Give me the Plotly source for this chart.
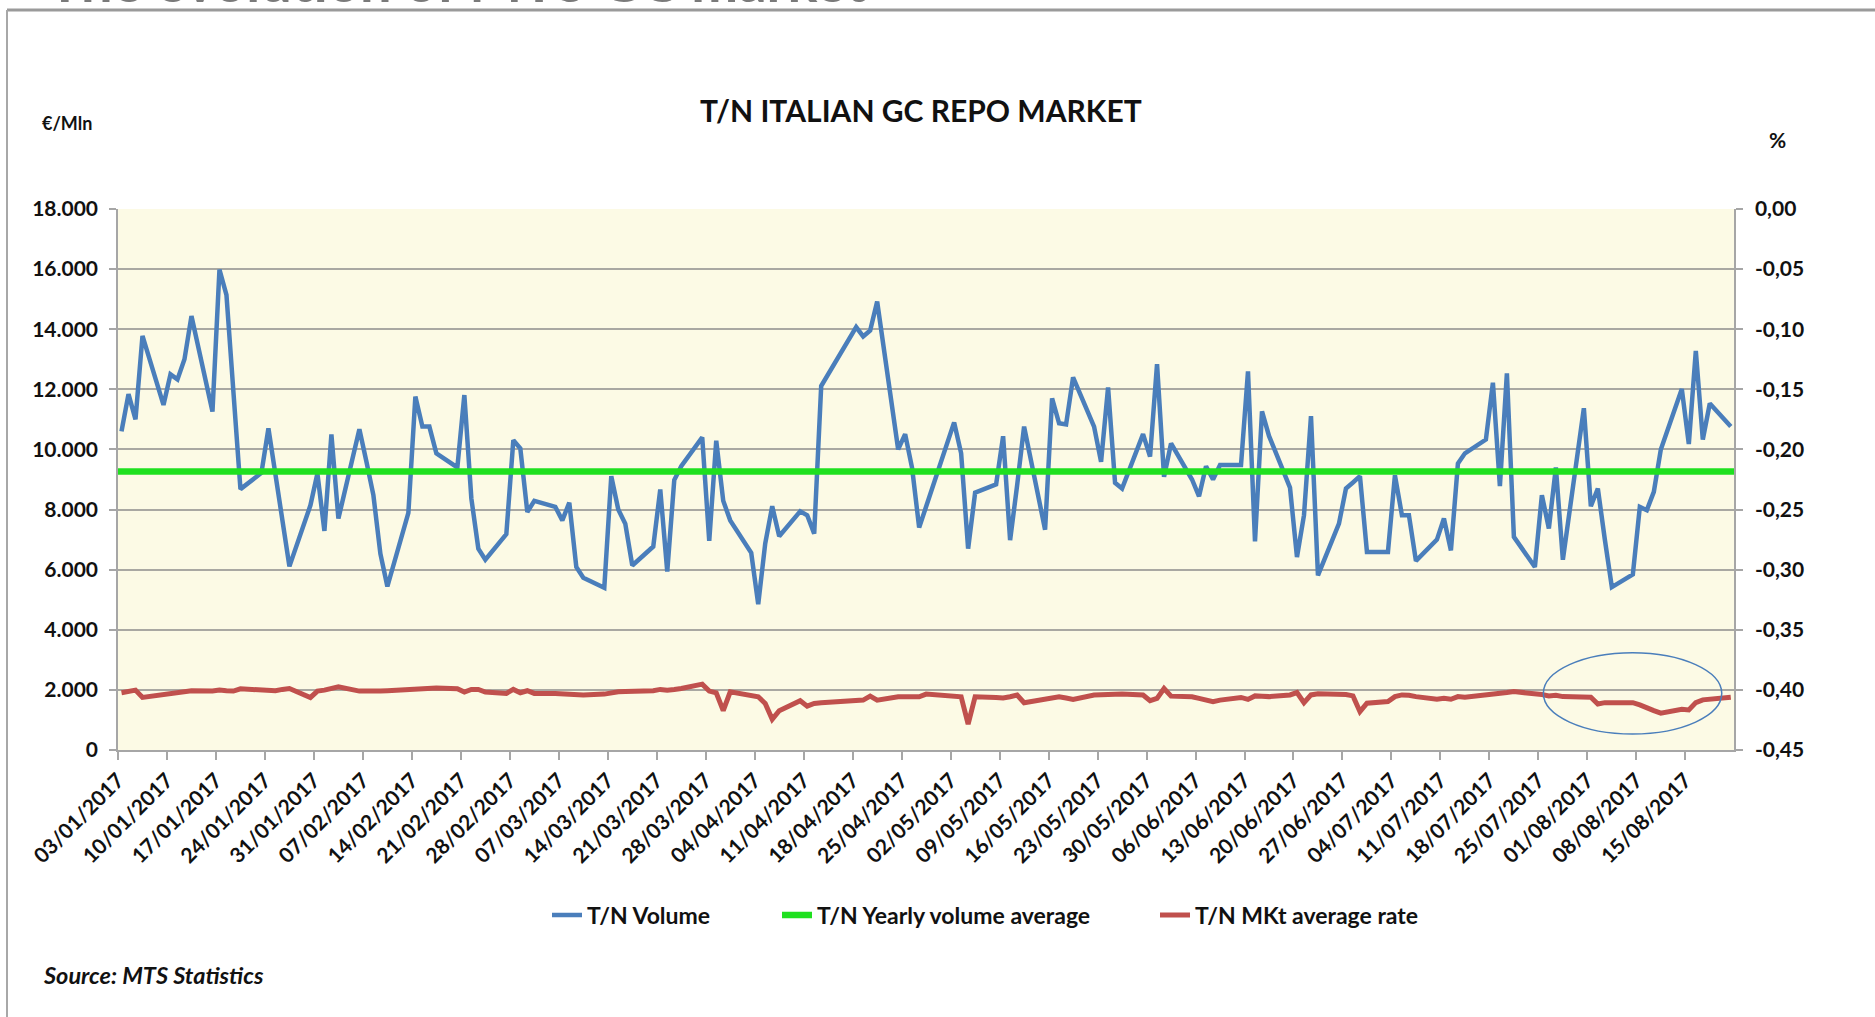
import pandas as pd
import plotly.graph_objects as go

# Trading days on the chart (TARGET holidays have no MTS data)
HOLIDAYS = ["2017-04-14", "2017-04-17", "2017-05-01"]
DATES = pd.bdate_range("2017-01-03", "2017-08-21")
DATES = DATES[~DATES.isin(pd.to_datetime(HOLIDAYS))]

# T/N volume, EUR mln (one row per week)
VOLUME = [
    10600, 11840, 11000, 13780,
    11480, 12500, 12330, 13000, 14440,
    11260, 15980, 15140, 11900, 8680,
    9220, 10700, 9170, 7640, 6110,
    8140, 9200, 7290, 10500, 7700,
    10670, 9600, 8480, 6530, 5440,
    7890, 11760, 10760, 10760, 9870,
    9400, 11810, 8370, 6700, 6330,
    7180, 10310, 10030, 7920, 8290,
    8090, 7640, 8230, 6090, 5730,
    5400, 9110, 8000, 7530, 6140,
    6770, 8670, 5940, 8980, 9440,
    10400, 6960, 10290, 8290, 7640,
    6560, 4850, 6870, 8110, 7110,
    7940, 7810, 7200, 12110,
    14070, 13760, 13960, 14920,
    10000, 10510, 9370, 7400, 8100,
    10900, 9870, 6700, 8560,
    8840, 10440, 6980, 8800, 10760,
    7330, 11700, 10870, 10830, 12400,
    10760, 9590, 12060, 8890, 8700,
    10510, 9760, 12840, 9090, 10200,
    9000, 8440, 9440, 9000, 9480,
    9480, 12600, 6940, 11270, 10450,
    8730, 6420, 7810, 11110, 5810,
    7530, 8700, 8900, 9110, 6590,
    6590, 9140, 7810, 7810, 6290,
    7000, 7700, 6640, 9530, 9870,
    10330, 12220, 8780, 12530, 7090,
    6090, 8480, 7370, 9400, 6330,
    11370, 8110, 8700, 7000, 5420,
    5840, 8090, 7980, 8590, 10000,
    12010, 10180, 13280, 10330, 11530,
    10760,
]

# T/N market average rate, %
RATE = [
    -0.4024, -0.4018, -0.4002, -0.4063,
    -0.4035, -0.4029, -0.4021, -0.4016, -0.4007,
    -0.4010, -0.4002, -0.4007, -0.4010, -0.3991,
    -0.4002, -0.4005, -0.4007, -0.3996, -0.3988,
    -0.4063, -0.4010, -0.4002, -0.3991, -0.3974,
    -0.4010, -0.4013, -0.4007, -0.4010, -0.4007,
    -0.3996, -0.3994, -0.3991, -0.3988, -0.3985,
    -0.3991, -0.4018, -0.3996, -0.3996, -0.4018,
    -0.4029, -0.3996, -0.4024, -0.4007, -0.4029,
    -0.4029, -0.4032, -0.4032, -0.4040, -0.4043,
    -0.4035, -0.4024, -0.4016, -0.4013, -0.4013,
    -0.4007, -0.3996, -0.4002, -0.3996, -0.3988,
    -0.3952, -0.4010, -0.4024, -0.4173, -0.4016,
    -0.4052, -0.4057, -0.4113, -0.4245, -0.4173,
    -0.4090, -0.4135, -0.4113, -0.4107,
    -0.4093, -0.4085, -0.4052, -0.4085,
    -0.4057, -0.4057, -0.4057, -0.4057, -0.4035,
    -0.4052, -0.4057, -0.4284, -0.4057,
    -0.4063, -0.4068, -0.4057, -0.4043, -0.4107,
    -0.4071, -0.4063, -0.4057, -0.4068, -0.4079,
    -0.4043, -0.4040, -0.4040, -0.4038, -0.4035,
    -0.4043, -0.4090, -0.4071, -0.3988, -0.4052,
    -0.4057, -0.4071, -0.4085, -0.4099, -0.4085,
    -0.4063, -0.4079, -0.4050, -0.4053, -0.4056,
    -0.4042, -0.4022, -0.4106, -0.4042, -0.4033,
    -0.4031, -0.4039, -0.4050, -0.4181, -0.4111,
    -0.4097, -0.4056, -0.4042, -0.4044, -0.4056,
    -0.4078, -0.4069, -0.4078, -0.4056, -0.4061,
    -0.4044, -0.4042, -0.4033, -0.4022, -0.4014,
    -0.4028, -0.4039, -0.4050, -0.4044, -0.4056,
    -0.4056, -0.4061, -0.4117, -0.4106, -0.4106,
    -0.4106, -0.4125, -0.4144, -0.4172, -0.4194,
    -0.4161, -0.4167, -0.4106, -0.4083, -0.4078,
    -0.4061,
]

YEARLY_AVG = 9270

VOL_TICKS = [0, 2000, 4000, 6000, 8000, 10000, 12000, 14000, 16000, 18000]
VOL_LABELS = ["0", "2.000", "4.000", "6.000", "8.000", "10.000", "12.000", "14.000", "16.000", "18.000"]
RATE_TICKS = [-0.45, -0.40, -0.35, -0.30, -0.25, -0.20, -0.15, -0.10, -0.05, 0.0]
RATE_LABELS = ["-0,45", "-0,40", "-0,35", "-0,30", "-0,25", "-0,20", "-0,15", "-0,10", "-0,05", "0,00"]

X_START, X_END = "2017-01-03", "2017-08-21 23:00"

assert len(DATES) == len(VOLUME) == len(RATE)

# points sit in the middle of each day slot
x = DATES + pd.Timedelta(hours=12)

# plot area in pixels
W, H = 1875, 1017
L, R, T, B = 118, 1734, 209, 750


def px(v):
    return (v - L) / (R - L)


def py(v):
    return (B - v) / (B - T)


FONT = "Lato, 'Open Sans', sans-serif"
AXIS_GRAY = "#a6a6a6"
TEXT = "#111111"

fig = go.Figure()

fig.add_trace(go.Scatter(
    x=x, y=VOLUME, name="T/N Volume", mode="lines",
    line=dict(color="#4a7ebb", width=4.5), legend="legend",
))
fig.add_trace(go.Scatter(
    x=[X_START, X_END], y=[YEARLY_AVG, YEARLY_AVG],
    name="T/N Yearly volume average", mode="lines",
    line=dict(color="#1fe01f", width=6.5), legend="legend2",
))
fig.add_trace(go.Scatter(
    x=x, y=RATE, name="T/N MKt average rate", mode="lines",
    line=dict(color="#c0504d", width=5), yaxis="y2", legend="legend3",
))

# one legend box per entry so the spacing can follow the original
legend_style = dict(orientation="h", xanchor="left", y=py(915), yanchor="middle",
                    font=dict(size=23, weight="bold", color=TEXT),
                    bgcolor="rgba(0,0,0,0)")

axis_style = dict(ticks="outside", tickcolor=AXIS_GRAY, tickwidth=1.5,
                  showline=True, linecolor=AXIS_GRAY, linewidth=1.5,
                  zeroline=False, tickfont=dict(size=21, weight="bold", color=TEXT))

fig.update_layout(
    width=W, height=H, autosize=False,
    margin=dict(l=L, r=W - R, t=T, b=H - B),
    paper_bgcolor="white",
    plot_bgcolor="#fcfae5",
    font=dict(family=FONT, color=TEXT, size=21, weight="bold"),
    showlegend=True,
    legend=dict(x=px(547), **legend_style),
    legend2=dict(x=px(777), **legend_style),
    legend3=dict(x=px(1155), **legend_style),
    xaxis=dict(
        type="date", range=[X_START, X_END],
        tick0=X_START, dtick=7 * 86400000, tickformat="%d/%m/%Y",
        tickangle=-45, ticklen=8, showgrid=False, **axis_style,
    ),
    yaxis=dict(
        range=[0, 18000], tickvals=VOL_TICKS, ticktext=VOL_LABELS,
        ticklen=7, ticklabelstandoff=7,
        showgrid=True, gridcolor="#a9a8a2", gridwidth=1.5, **axis_style,
    ),
    yaxis2=dict(
        overlaying="y", side="right",
        range=[-0.45, 0], tickvals=RATE_TICKS, ticktext=RATE_LABELS,
        ticklen=7, ticklabelstandoff=8, showgrid=False, **axis_style,
    ),
)

# titles and notes
fig.add_annotation(
    text="T/N ITALIAN GC REPO MARKET", xref="paper", yref="paper",
    x=px(921), y=py(110), xanchor="center", yanchor="middle", showarrow=False,
    font=dict(size=30, weight="bold", color=TEXT),
)
fig.add_annotation(
    text="€/Mln", xref="paper", yref="paper",
    x=px(40), y=py(123), xanchor="left", yanchor="middle", showarrow=False,
    font=dict(size=18, weight="bold", color=TEXT),
)
fig.add_annotation(
    text="%", xref="paper", yref="paper",
    x=px(1777), y=py(140), xanchor="center", yanchor="middle", showarrow=False,
    font=dict(size=21, weight="bold", color=TEXT),
)
fig.add_annotation(
    text="Source: MTS Statistics", xref="paper", yref="paper",
    x=px(41), y=py(975), xanchor="left", yanchor="middle", showarrow=False,
    font=dict(size=23.5, weight="bold", style="italic", color=TEXT),
)
# slide heading, cut off at the top of the capture
fig.add_annotation(
    text="The evolution of MTS GC market", xref="paper", yref="paper",
    x=px(46), y=py(16), xanchor="left", yanchor="bottom", showarrow=False,
    font=dict(size=56, weight="bold", color="#7a7a7a"),
)

# frame of the slide box
fig.add_shape(type="line", xref="paper", yref="paper",
              x0=px(7), x1=px(W + 5), y0=py(10), y1=py(10),
              line=dict(color="#9a9a9a", width=3))
fig.add_shape(type="line", xref="paper", yref="paper",
              x0=px(7), x1=px(7), y0=py(10), y1=py(H + 5),
              line=dict(color="#a8a8a8", width=2))

# highlight ellipse on the recent rate decline
fig.add_shape(type="circle", xref="x", yref="y",
              x0="2017-07-25 17:00", x1="2017-08-20 05:00", y0=532, y1=3237,
              line=dict(color="#4a7ebb", width=1.5))

# drop the default page margin so the figure starts at the window corner
fig.write_html(
    "out.html",
    config={"displayModeBar": False},
    post_script="document.body.style.margin='0';",
)
